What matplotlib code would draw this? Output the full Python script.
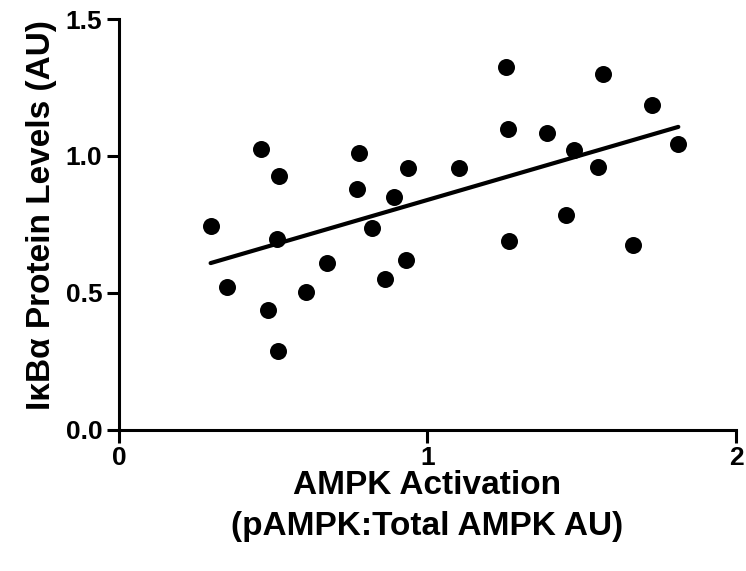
import numpy as np
import matplotlib
matplotlib.use("Agg")
import matplotlib.pyplot as plt

plt.rcParams['font.family'] = ['Liberation Sans', 'DejaVu Sans']
plt.rcParams['font.weight'] = 'bold'

# AMPK activation (pAMPK:Total AMPK AU)
ampk = [0.297, 0.349, 0.460, 0.520, 0.511, 0.483, 0.514, 0.607, 0.673,
        0.778, 0.770, 0.820, 0.862, 0.890, 0.929, 0.937, 1.103, 1.255,
        1.261, 1.265, 1.386, 1.448, 1.475, 1.554, 1.570, 1.667, 1.727, 1.813]
# IkBa protein levels (AU)
ikba = [0.743, 0.519, 1.024, 0.927, 0.695, 0.437, 0.288, 0.501, 0.610,
        1.012, 0.878, 0.738, 0.549, 0.850, 0.620, 0.957, 0.954, 1.323,
        1.097, 0.690, 1.084, 0.785, 1.020, 0.958, 1.300, 0.675, 1.185, 1.045]

xticks = [0, 1, 2]
yticks = [0.0, 0.5, 1.0, 1.5]

fig = plt.figure(figsize=(7.46, 5.71), dpi=100)
ax = fig.add_axes([0.1595, 0.2478, 0.8271, 0.7189])

ax.scatter(ampk, ikba, s=150, color='black', zorder=3, linewidths=0)

# linear regression line over the data range
slope, icept = np.polyfit(ampk, ikba, 1)
xl = np.array([min(ampk), max(ampk)])
ax.plot(xl, slope*xl + icept, color='black', lw=3, solid_capstyle='round')

ax.set_xlim(0, 2)
ax.set_ylim(0, 1.5)
ax.set_xticks(xticks)
ax.set_yticks(yticks)
ax.set_xticklabels([str(v) for v in xticks])
ax.set_yticklabels(['%.1f' % v for v in yticks])

for s in ['top', 'right']:
    ax.spines[s].set_visible(False)
for s in ['left', 'bottom']:
    ax.spines[s].set_linewidth(2.2)
ax.tick_params(width=2.2, length=9, labelsize=19, direction='out', pad=3)

ax.set_xlabel('AMPK Activation\n(pAMPK:Total AMPK AU)', fontsize=24,
              fontweight='bold', labelpad=0, linespacing=1.4)
ax.set_ylabel('I\u03baB\u03b1 Protein Levels (AU)', fontsize=24,
              fontweight='bold')
ax.yaxis.set_label_coords(-0.1, 0.522)

fig.savefig('out.png', dpi=100)
